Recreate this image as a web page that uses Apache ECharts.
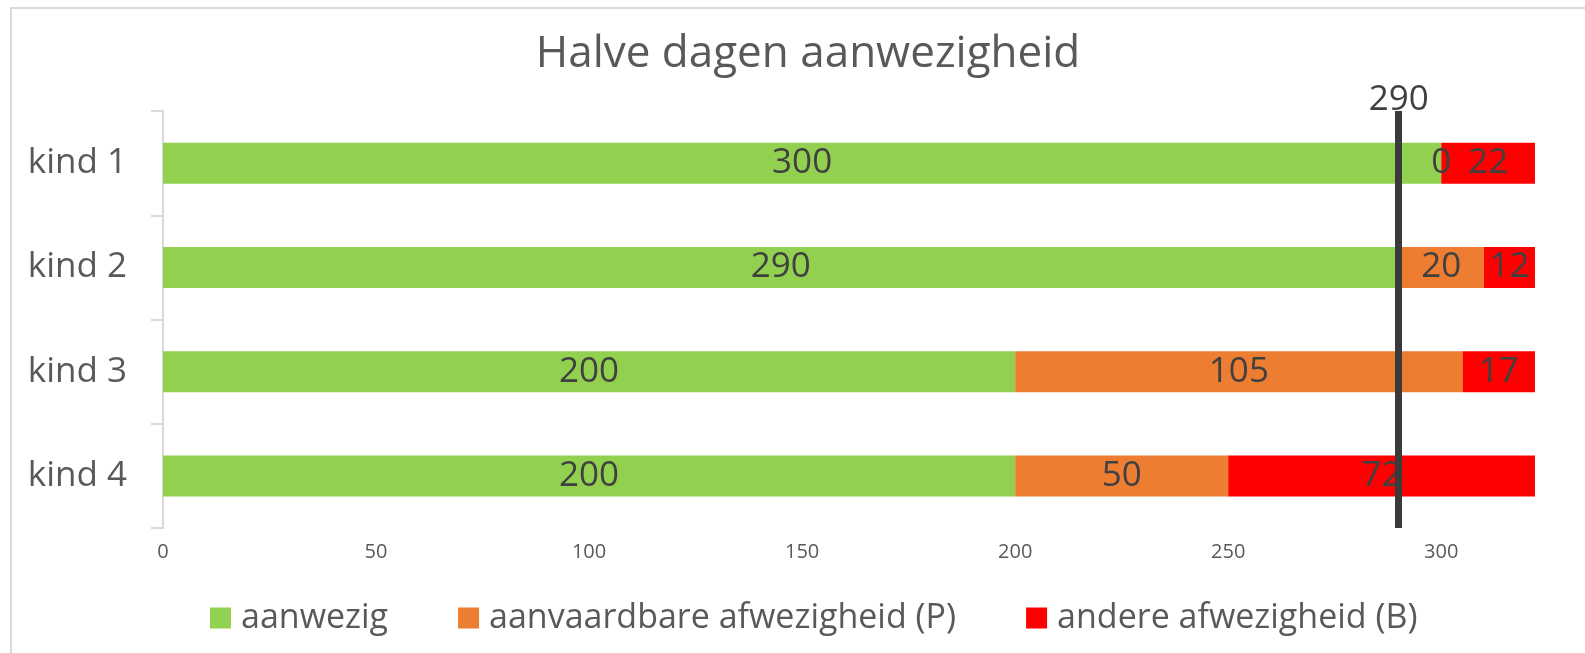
<!DOCTYPE html>
<html>
<head>
<meta charset="utf-8">
<script src="https://cdn.jsdelivr.net/npm/echarts@6/dist/echarts.min.js"></script>
<style>
  html, body { margin: 0; padding: 0; background: #fff; }
  #chart { width: 1585px; height: 653px; }
</style>
</head>
<body>
<div id="chart"></div>
<script>
// gegevens
const kinderen = ['kind 1', 'kind 2', 'kind 3', 'kind 4']
const aanwezig = [300, 290, 200, 200]
const aanvaardbaar = [0, 20, 105, 50]
const andere = [22, 12, 17, 72]
const grens = 290
const xTicks = [0, 50, 100, 150, 200, 250, 300]

const font = '"Open Sans", "Noto Sans", sans-serif'
const labelStyle = {
  show: true,
  position: 'inside',
  color: '#404040',
  fontSize: 35,
  fontFamily: font
}

const chart = echarts.init(document.getElementById('chart'))
chart.setOption({
  animation: false,
  backgroundColor: '#fff',
  graphic: [{
    type: 'rect',
    shape: { x: 11, y: 8, width: 1600, height: 700 },
    style: { fill: 'none', stroke: '#d9d9d9', lineWidth: 2 },
    silent: true
  }],
  title: {
    text: 'Halve dagen aanwezigheid',
    left: 803,
    textAlign: 'center',
    top: 27,
    textStyle: { color: '#595959', fontSize: 44, fontWeight: 'normal', fontFamily: font }
  },
  legend: {
    bottom: 13,
    left: 205,
    itemWidth: 21,
    itemHeight: 21,
    itemGap: 70,
    icon: 'rect',
    textStyle: { color: '#595959', fontSize: 34, fontFamily: font, padding: [0, 0, 0, 5] }
  },
  grid: { left: 163, right: 50, top: 111, bottom: 125 },
  xAxis: {
    type: 'value',
    min: 0,
    max: 322,
    interval: 50,
    splitLine: { show: false },
    axisLine: { show: false },
    axisTick: { show: false },
    axisLabel: {
      color: '#595959',
      fontSize: 20,
      fontFamily: font,
      margin: 14,
      customValues: xTicks
    }
  },
  yAxis: {
    type: 'category',
    inverse: true,
    data: kinderen,
    axisLine: { show: true, lineStyle: { color: '#d9d9d9', width: 2 } },
    axisTick: { show: true, length: 12, lineStyle: { color: '#d9d9d9', width: 2 } },
    axisLabel: { color: '#595959', fontSize: 35, fontFamily: font, margin: 36 }
  },
  series: [
    {
      name: 'aanwezig',
      type: 'bar',
      stack: 'totaal',
      barWidth: 41,
      itemStyle: { color: '#92d050' },
      label: labelStyle,
      data: aanwezig
    },
    {
      name: 'aanvaardbare afwezigheid (P)',
      type: 'bar',
      stack: 'totaal',
      itemStyle: { color: '#ed7d31' },
      label: labelStyle,
      data: aanvaardbaar
    },
    {
      name: 'andere afwezigheid (B)',
      type: 'bar',
      stack: 'totaal',
      itemStyle: { color: '#ff0000' },
      label: labelStyle,
      data: andere,
      markLine: {
        silent: true,
        symbol: 'none',
        lineStyle: { color: '#3a3a3a', width: 7, type: 'solid' },
        label: {
          show: true,
          position: 'start',
          distance: -7,
          formatter: String(grens),
          color: '#404040',
          fontSize: 35,
          fontFamily: font
        },
        data: [{ xAxis: grens }]
      }
    }
  ]
})
</script>
</body>
</html>
